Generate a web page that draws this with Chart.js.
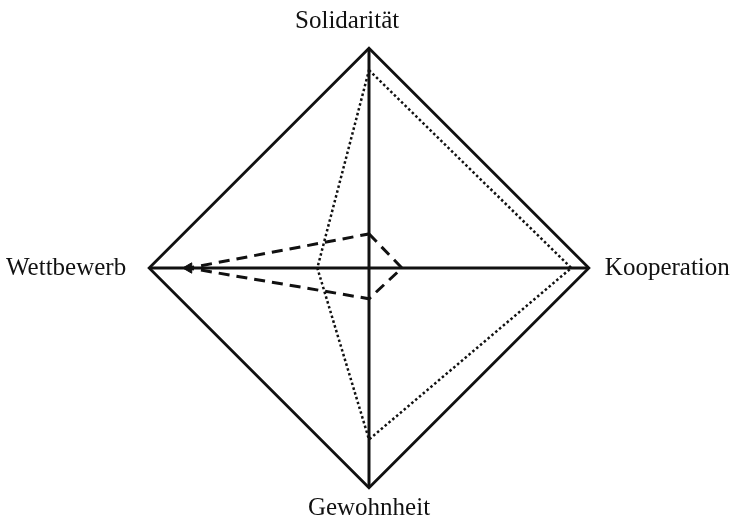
<!DOCTYPE html>
<html>
<head>
<meta charset="utf-8">
<script src="https://cdn.jsdelivr.net/npm/chart.js@4"></script>
<style>
    html, body { margin: 0; padding: 0; background: #fff; }
    #box { width: 731px; height: 520px; }
</style>
</head>
<body>
<div id="box"><canvas id="radar-graph"></canvas></div>
<script>
const axisLabels = ["Solidarität", "Kooperation", "Gewohnheit", "Wettbewerb"]
const dottedValues = [0.9, 0.92, 0.78, 0.235]
const dashedValues = [0.155, 0.15, 0.14, 0.82]

// label gaps per axis (top, right, bottom, left), the scan is not symmetric
const labelGaps = [22, 16, 16, 23]

const radarCanvas = document.getElementById("radar-graph")

const data = {
    labels: axisLabels,
    datasets: [{
        label: "gepunktet",
        data: dottedValues,
        borderColor: "#111",
        borderWidth: 2.5,
        borderDash: [2.5, 2.5],
        backgroundColor: "rgba(0,0,0,0)",
        fill: false,
        pointRadius: 0
    }, {
        label: "gestrichelt",
        data: dashedValues,
        borderColor: "#111",
        borderWidth: 3,
        borderDash: [11, 7],
        backgroundColor: "rgba(0,0,0,0)",
        fill: false,
        pointStyle: "triangle",
        pointRadius: [0, 0, 0, 6],
        pointRotation: [0, 0, 0, 270],
        pointBackgroundColor: "#111",
        pointBorderColor: "#111",
        pointBorderWidth: 1
    }]
}

const config = {
    type: "radar",
    data: data,
    options: {
        responsive: true,
        maintainAspectRatio: false,
        animation: false,
        layout: { padding: { top: 12, bottom: 2, left: 5, right: -3 } },
        plugins: { legend: { display: false }, tooltip: { enabled: false } },
        scales: {
            r: {
                min: 0,
                max: 1,
                ticks: { display: false, stepSize: 1 },
                grid: { color: "#111", lineWidth: 2.8 },
                angleLines: { color: "#111", lineWidth: 3 },
                pointLabels: {
                    color: "#111",
                    padding: (ctx) => labelGaps[ctx.index],
                    font: { family: "'Liberation Serif'", size: 25, lineHeight: 0.4 },
                    // top label sits a bit left of its axis in the original
                    callback: (label, i) => i === 0 ? label + "\u00a0".repeat(7) : label
                }
            }
        }
    }
}

new Chart(radarCanvas, config)
</script>
</body>
</html>
